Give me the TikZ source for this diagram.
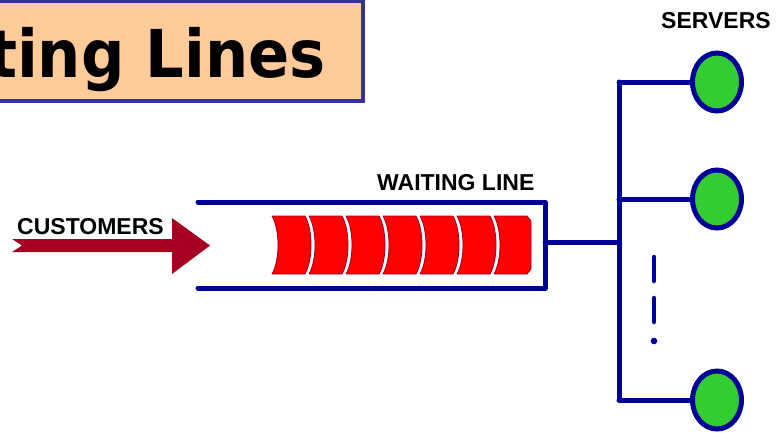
\documentclass[tikz,border=0pt]{standalone}
\usepackage{fontspec}
\setmainfont{Liberation Sans}
\newfontfamily\titlefont{DejaVu Sans}
\usetikzlibrary{shapes.geometric}
\definecolor{chanblue}{HTML}{000099}
\definecolor{titleedge}{HTML}{333399}
\definecolor{titlefill}{HTML}{FFCC99}
\definecolor{arrowred}{HTML}{A50021}
\definecolor{itemred}{HTML}{FF0000}
\definecolor{itemedge}{HTML}{99002B}
\definecolor{servergreen}{HTML}{33CC33}
\tikzset{
  chan/.style={draw=chanblue, line width=5pt, line cap=round, line join=round},
  server/.style={ellipse, draw=chanblue, line width=5pt, fill=servergreen,
    minimum width=49pt, minimum height=58pt, inner sep=0pt},
  label/.style={font=\fontsize{23}{27}\selectfont\bfseries, inner sep=0pt, anchor=base west},
  item/.style={fill=itemred, draw=itemedge, line width=0.8pt, line join=round},
}
\begin{document}
\begin{tikzpicture}[x=1pt, y=-1pt]
\useasboundingbox (0,0) rectangle (778,432);
\clip (0,0) rectangle (778,432);

% title banner, cut off on the left
\node[draw=titleedge, fill=titlefill, line width=4pt, inner sep=0pt,
  minimum width=380pt, minimum height=100pt, anchor=north east] (banner) at (365,-1) {};
\node[font=\titlefont\bfseries\fontsize{66}{70}\selectfont, inner sep=0pt, anchor=base east]
  (title) at (326,77) {\scalebox{0.92}[1]{Waiting Lines}};

% arrival arrow
\node[label] (cust) at (17,234.5) {CUSTOMERS};
\path[fill=arrowred]
  (12,239) -- (172,239) -- (172,218) -- (210,245.5) -- (172,274) -- (172,252)
  -- (12,252) -- (22,245.5) -- cycle;
\coordinate (arrowtip) at (210,245.5);

% waiting channel
\coordinate (chtl) at (198,202);
\coordinate (chtr) at (545,202);
\coordinate (chbr) at (545,288);
\coordinate (chbl) at (198,288);
\draw[chan] (chtl) -- (chtr) -- (chbr) -- (chbl);
\node[label] (wl) at (377,190) {WAITING LINE};

% customers standing in line
\foreach \i in {0,...,5}{
  \pgfmathsetmacro{\xa}{272+37*\i}
  \path[item] (\xa,216) -- (\xa+33,216)
    .. controls (\xa+41,230) and (\xa+41,260) .. (\xa+33,274)
    -- (\xa,274)
    .. controls (\xa+8,260) and (\xa+8,230) .. (\xa,216) -- cycle;
}
\path[item] (494,216) -- (527,216) -- (531,221) -- (531,269) -- (527,274)
  -- (494,274) .. controls (502,260) and (502,230) .. (494,216) -- cycle;

% servers
\node[label] (srv) at (661,28) {SERVERS};
\node[server] (s1) at (717,82) {};
\node[server] (s2) at (717,199) {};
\node[server] (s3) at (717,400) {};

% distribution lines
\coordinate (qout) at (545,242);
\coordinate (hub) at (619,242);
\coordinate (t1) at (619,82);
\coordinate (t2) at (619,199);
\coordinate (t3) at (619,400);
\draw[chan] (qout) -- (hub);
\draw[chan] (t1) -- (t3);
\draw[chan] (t1) -- (s1.west);
\draw[chan] (t2) -- (s2.west);
\draw[chan] (t3) -- (s3.west);

% ellipsis for further servers
\coordinate (d1a) at (654,257);
\coordinate (d1b) at (654,281);
\coordinate (d2a) at (654,298);
\coordinate (d2b) at (654,322);
\draw[chan, line width=4.5pt] (d1a) -- (d1b);
\draw[chan, line width=4.5pt] (d2a) -- (d2b);
\fill[chanblue] (654,341) circle (3.3pt);
\end{tikzpicture}
\end{document}
